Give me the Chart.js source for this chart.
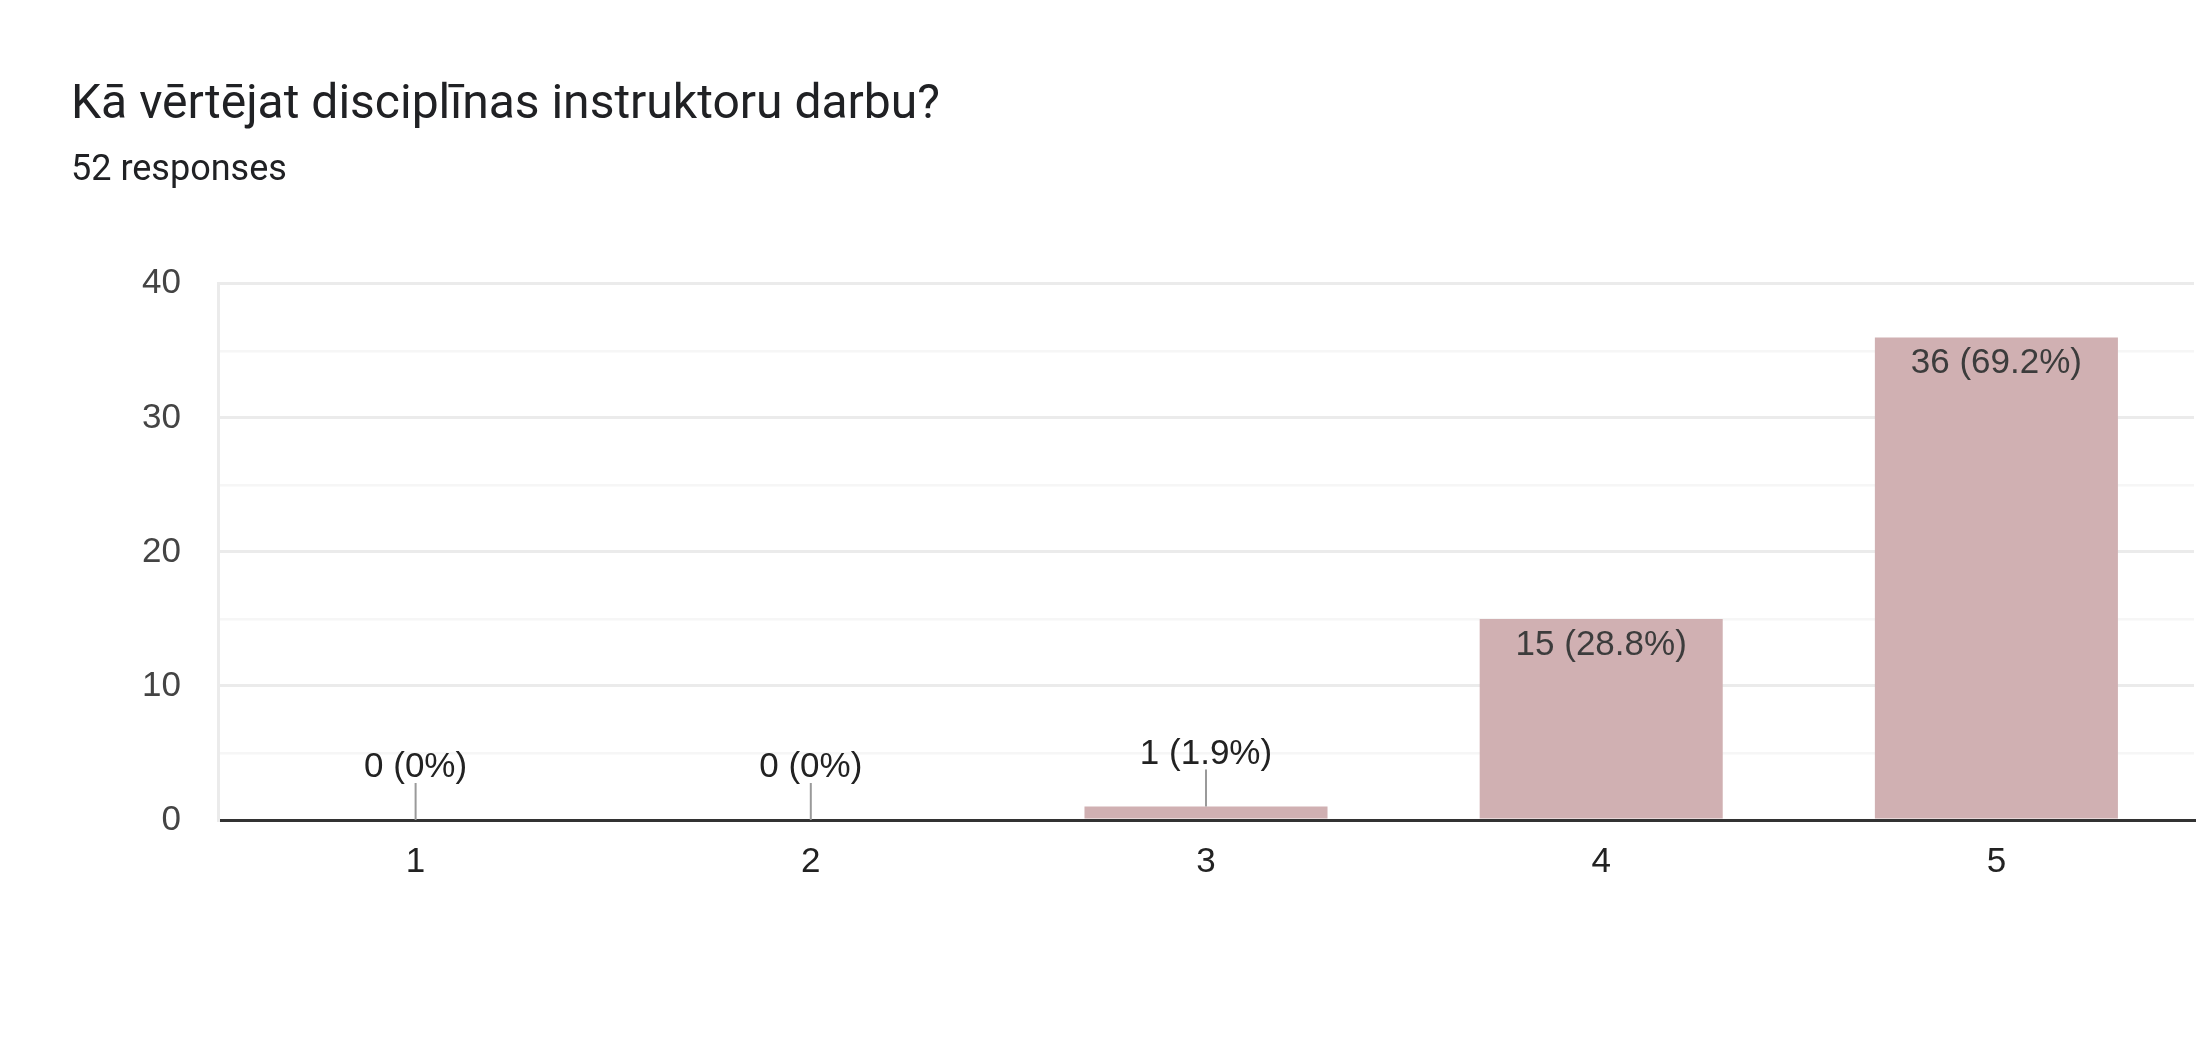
<!DOCTYPE html>
<html>
<head>
<meta charset="utf-8">
<title>Kā vērtējat disciplīnas instruktoru darbu?</title>
<script src="https://cdn.jsdelivr.net/npm/chart.js@4.4.1/dist/chart.umd.min.js"></script>
<style>
    html, body { margin: 0; padding: 0; background: #ffffff; }
    #wrap { width: 2196px; height: 1044px; }
</style>
</head>
<body>
<div id="wrap"><canvas id="chart" width="2196" height="1044"></canvas></div>
<script>
// Data
const categories = ['1', '2', '3', '4', '5'];
const counts = [0, 0, 1, 15, 36];
const totalResponses = 52;
const yMax = 40;
const yStep = 5;

const titleText = 'Kā vērtējat disciplīnas instruktoru darbu?';
const subtitleText = totalResponses + ' responses';

const labelFont = '"Liberation Sans", Arial, sans-serif';

// value labels: inside the bar when tall enough, otherwise above with a leader line
const barLabels = {
    id: 'barLabels',
    afterDatasetsDraw(chart) {
        const ctx = chart.ctx;
        const meta = chart.getDatasetMeta(0);
        ctx.save();
        ctx.font = '35px ' + labelFont;
        ctx.textAlign = 'center';
        ctx.textBaseline = 'alphabetic';
        meta.data.forEach((bar, i) => {
            const v = counts[i];
            const pct = parseFloat((v / totalResponses * 100).toFixed(1));
            const text = `${v} (${pct}%)`;
            if (bar.base - bar.y > 60) {
                ctx.fillStyle = '#3c3c3c';
                ctx.fillText(text, bar.x, bar.y + 36);
            } else {
                ctx.strokeStyle = '#9a9a9a';
                ctx.lineWidth = 2;
                ctx.beginPath();
                ctx.moveTo(bar.x, bar.y);
                ctx.lineTo(bar.x, bar.y - 37);
                ctx.stroke();
                ctx.fillStyle = '#222222';
                ctx.fillText(text, bar.x, bar.y - 43);
            }
        });
        ctx.restore();
    }
};

new Chart(document.getElementById('chart').getContext('2d'), {
    type: 'bar',
    data: {
        labels: categories,
        datasets: [{
            data: counts,
            backgroundColor: '#d0b0b2',
            borderWidth: 0,
            barPercentage: 0.615,
            categoryPercentage: 1
        }]
    },
    options: {
        responsive: false,
        devicePixelRatio: 1,
        animation: false,
        layout: { padding: { left: 71, right: 2, top: 0, bottom: 140 } },
        plugins: {
            legend: { display: false },
            tooltip: { enabled: false },
            title: {
                display: true,
                text: titleText,
                align: 'start',
                color: '#202124',
                font: { family: 'Roboto', size: 48, weight: 'normal' },
                padding: { top: 77, bottom: 0 }
            },
            subtitle: {
                display: true,
                text: subtitleText,
                align: 'start',
                color: '#202124',
                font: { family: 'Roboto', size: 36, weight: 'normal' },
                padding: { top: 15, bottom: 91 }
            }
        },
        scales: {
            x: {
                z: 1,
                grid: {
                    offset: true,
                    drawTicks: false,
                    lineWidth: 3,
                    color: (c) => c.index === categories.length ? '#ebebeb' : 'rgba(0,0,0,0)'
                },
                border: { display: true, color: '#333333', width: 3 },
                ticks: {
                    color: '#222222',
                    padding: 21,
                    font: { family: labelFont, size: 35 }
                }
            },
            y: {
                min: 0,
                max: yMax,
                afterFit: (scale) => { scale.width = 147; },
                grid: {
                    drawTicks: false,
                    lineWidth: (c) => c.tick && c.tick.value % 10 === 0 ? 3 : 2.5,
                    color: (c) => {
                        if (!c.tick || c.tick.value === 0) return 'rgba(0,0,0,0)';
                        return c.tick.value % 10 === 0 ? '#ebebeb' : '#f6f6f6';
                    }
                },
                border: { display: true, color: '#ebebeb', width: 3 },
                ticks: {
                    stepSize: yStep,
                    padding: 37,
                    color: '#444444',
                    font: { family: labelFont, size: 35 },
                    callback: (v) => v % 10 === 0 ? v : ''
                }
            }
        }
    },
    plugins: [barLabels]
});
</script>
</body>
</html>
